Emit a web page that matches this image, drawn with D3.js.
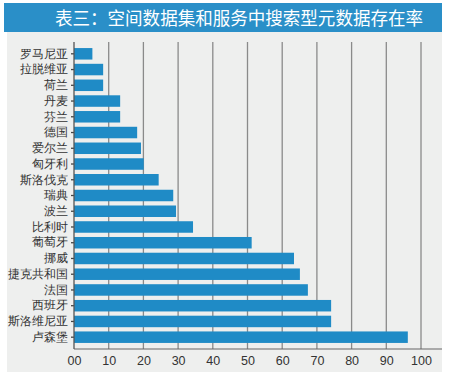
<!DOCTYPE html>
<html>
<head>
<meta charset="utf-8">
<script src="https://cdn.jsdelivr.net/npm/d3@7"></script>
<style>
  body { margin: 0; background: #fff; }
  svg { display: block; font-family: "Noto Sans CJK SC", "Noto Sans", sans-serif; }
</style>
</head>
<body>
<div id="chart"></div>
<script>
const title = '表三：空间数据集和服务中搜索型元数据存在率'
const countries = ['罗马尼亚', '拉脱维亚', '荷兰', '丹麦', '芬兰', '德国', '爱尔兰', '匈牙利', '斯洛伐克', '瑞典',
  '波兰', '比利时', '葡萄牙', '挪威', '捷克共和国', '法国', '西班牙', '斯洛维尼亚', '卢森堡']
const values = [5.3, 8.4, 8.4, 13.3, 13.3, 18.2, 19.3, 20.1, 24.4, 28.6,
  29.4, 34.3, 51.2, 63.4, 65.1, 67.4, 74.1, 74.1, 96.2]
const ticks = [0, 10, 20, 30, 40, 50, 60, 70, 80, 90, 100]
const tickLabels = ['00', '10', '20', '30', '40', '50', '60', '70', '80', '90', '100']

const width = 450
const height = 377
const margin = { top: 42, right: 29, bottom: 28, left: 74 }

const svg = d3.select('#chart')
  .append('svg')
  .attr('width', width)
  .attr('height', height)

// title bar + panel
svg.append('rect')
  .attr('x', 7).attr('y', 32)
  .attr('width', 435).attr('height', 340)
  .attr('fill', '#eeefee')
svg.append('rect')
  .attr('x', 4).attr('y', 3)
  .attr('width', 438).attr('height', 29)
  .attr('fill', '#2a8fc8')
svg.append('text')
  .attr('x', 55).attr('y', 24.5)
  .attr('font-size', 18)
  .attr('textLength', 368)
  .attr('lengthAdjust', 'spacingAndGlyphs')
  .attr('fill', '#fff')
  .text(title)

const xScale = d3.scaleLinear()
  .domain([0, 100])
  .range([margin.left, 421])

const yScale = d3.scaleBand()
  .domain(countries)
  .range([margin.top, height - margin.bottom])
  .paddingInner(0.27)
  .paddingOuter(0.385)

const axisY = height - margin.bottom

// grid lines
svg.append('g')
  .selectAll('line')
  .data(ticks.slice(1))
  .join('line')
  .attr('x1', d => xScale(d))
  .attr('x2', d => xScale(d))
  .attr('y1', margin.top)
  .attr('y2', axisY)
  .attr('stroke', '#8a8a8a')
  .attr('stroke-width', 1.3)

// bars
svg.append('g')
  .selectAll('rect')
  .data(values)
  .join('rect')
  .attr('x', xScale(0))
  .attr('y', (d, i) => yScale(countries[i]))
  .attr('width', d => xScale(d) - xScale(0))
  .attr('height', yScale.bandwidth())
  .attr('fill', '#1f8bc6')

// x axis
const xAxis = svg.append('g')
  .attr('transform', 'translate(0,' + axisY + ')')
  .call(d3.axisBottom(xScale).tickValues(ticks).tickSize(0).tickPadding(7)
    .tickFormat((d, i) => tickLabels[i]))
xAxis.select('.domain').remove()
xAxis.selectAll('text')
  .attr('font-family', 'Liberation Sans, Arial, sans-serif')
  .attr('font-size', 12.5)
  .attr('fill', '#333')
svg.append('line')
  .attr('x1', xScale(0)).attr('x2', 442)
  .attr('y1', axisY).attr('y2', axisY)
  .attr('stroke', '#666').attr('stroke-width', 1.2)

// y axis
const yAxis = svg.append('g')
  .attr('transform', 'translate(' + xScale(0) + ',0)')
  .call(d3.axisLeft(yScale).tickSize(3).tickPadding(3))
yAxis.select('.domain').remove()
yAxis.selectAll('line').attr('stroke', '#444').attr('stroke-width', 1.3)
yAxis.selectAll('text')
  .attr('font-size', 11.7)
  .attr('fill', '#333')
svg.append('line')
  .attr('x1', xScale(0)).attr('x2', xScale(0))
  .attr('y1', margin.top).attr('y2', axisY)
  .attr('stroke', '#555').attr('stroke-width', 1.3)
</script>
</body>
</html>
